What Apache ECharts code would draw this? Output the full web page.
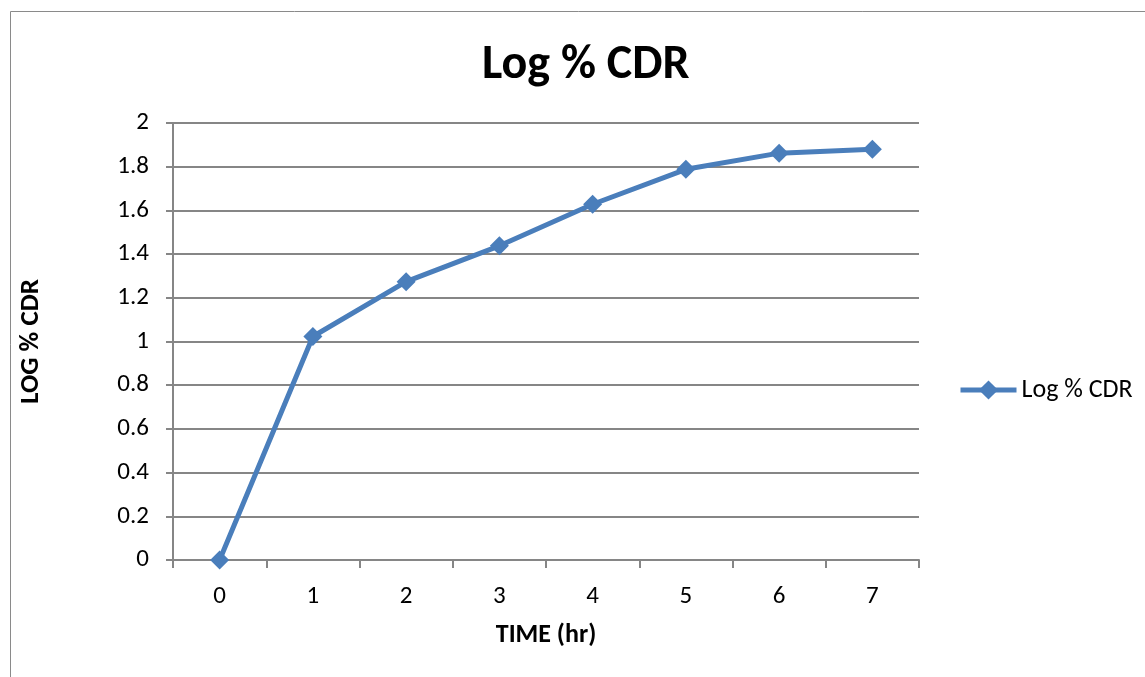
<!DOCTYPE html>
<html>
<head>
<meta charset="utf-8">
<script src="https://cdn.jsdelivr.net/npm/echarts@6/dist/echarts.min.js"></script>
<style>
  html, body { margin: 0; padding: 0; background: #fff; }
  #chart { width: 1145px; height: 677px; }
</style>
</head>
<body>
<div id="chart"></div>
<script>
// Time points (hr) and log of cumulative % drug release
const timeHours = ['0', '1', '2', '3', '4', '5', '6', '7'];
const logCDR = [0, 1.023, 1.274, 1.438, 1.628, 1.788, 1.862, 1.88];
const yTicks = { min: 0, max: 2, interval: 0.2 };

const fontFamily = 'Carlito, Calibri, "Open Sans", "Noto Sans", sans-serif';
const axisGrey = '#868686';
const blue = '#4A7EBB';

const chart = echarts.init(document.getElementById('chart'));
chart.setOption({
  backgroundColor: '#fff',
  animation: false,
  textStyle: { fontFamily: fontFamily, color: '#000' },
  graphic: [{
    type: 'rect',
    shape: { x: 10.5, y: 11.5, width: 1200, height: 700 },
    style: { fill: 'none', stroke: '#8a8a8a', lineWidth: 1 },
    silent: true
  }],
  title: {
    text: 'Log % CDR',
    left: 477,
    top: 37,
    textStyle: { fontFamily: fontFamily, fontSize: 48, fontWeight: 'bold', color: '#000' }
  },
  legend: {
    left: 953,
    top: 372,
    itemWidth: 56,
    itemHeight: 24,
    itemGap: 4,
    lineStyle: { width: 5 },
    textStyle: { fontFamily: fontFamily, fontSize: 26, color: '#000' },
    data: ['Log % CDR']
  },
  grid: { left: 173, right: 226, top: 123, bottom: 117, containLabel: false },
  xAxis: {
    type: 'category',
    data: timeHours,
    boundaryGap: true,
    name: 'TIME (hr)',
    nameLocation: 'middle',
    nameGap: 62,
    nameTextStyle: { fontFamily: fontFamily, fontSize: 26, fontWeight: 'bold', color: '#000' },
    axisLine: { lineStyle: { color: axisGrey, width: 2 } },
    axisTick: { show: true, length: 8, alignWithLabel: false, lineStyle: { color: axisGrey, width: 2 } },
    axisLabel: { fontSize: 25, color: '#000', margin: 24 },
    splitLine: { show: false }
  },
  yAxis: {
    type: 'value',
    min: yTicks.min,
    max: yTicks.max,
    interval: yTicks.interval,
    name: 'LOG % CDR',
    nameLocation: 'middle',
    nameGap: 128,
    nameRotate: 90,
    nameTextStyle: { fontFamily: fontFamily, fontSize: 27, fontWeight: 'bold', color: '#000' },
    axisLine: { show: true, lineStyle: { color: axisGrey, width: 2 } },
    axisTick: { show: true, length: 7, inside: false, lineStyle: { color: axisGrey, width: 2 } },
    axisLabel: { fontSize: 25, color: '#000', margin: 24 },
    splitLine: { show: true, lineStyle: { color: axisGrey, width: 2 } }
  },
  series: [{
    name: 'Log % CDR',
    type: 'line',
    data: logCDR,
    symbol: 'diamond',
    symbolSize: 19,
    lineStyle: { color: blue, width: 5 },
    itemStyle: { color: blue },
    emphasis: { disabled: true }
  }]
});
</script>
</body>
</html>
